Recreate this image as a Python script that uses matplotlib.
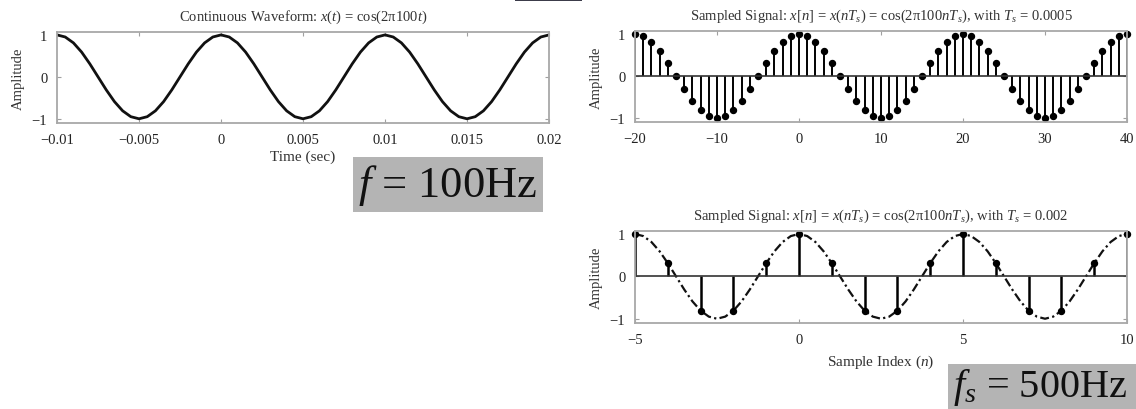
import numpy as np
import matplotlib
matplotlib.use("Agg")
import matplotlib.pyplot as plt
from matplotlib.patches import Rectangle

n_fast = np.arange(-20, 41)
x_fast = [1.0, 0.95, 0.81, 0.59, 0.31, 0.0, -0.31, -0.59, -0.81, -0.95,
          -1.0, -0.95, -0.81, -0.59, -0.31, 0.0, 0.31, 0.59, 0.81, 0.95,
          1.0, 0.95, 0.81, 0.59, 0.31, 0.0, -0.31, -0.59, -0.81, -0.95,
          -1.0, -0.95, -0.81, -0.59, -0.31, 0.0, 0.31, 0.59, 0.81, 0.95,
          1.0, 0.95, 0.81, 0.59, 0.31, 0.0, -0.31, -0.59, -0.81, -0.95,
          -1.0, -0.95, -0.81, -0.59, -0.31, 0.0, 0.31, 0.59, 0.81, 0.95,
          1.0]
Ts_fast = 0.0005

# samples at Ts = 0.002, n = -5 ... 10
n_slow = np.arange(-5, 11)
x_slow = [1.0, 0.31, -0.81, -0.81, 0.31, 1.0, 0.31, -0.81, -0.81, 0.31,
          1.0, 0.31, -0.81, -0.81, 0.31, 1.0]
Ts_slow = 0.002

t_ticks = [-0.01, -0.005, 0, 0.005, 0.01, 0.015, 0.02]
t_labels = ["\u22120.01", "\u22120.005", "0", "0.005", "0.01", "0.015", "0.02"]
fast_ticks = [-20, -10, 0, 10, 20, 30, 40]
slow_ticks = [-5, 0, 5, 10]

plt.rcParams["font.family"] = ["Liberation Serif", "DejaVu Serif"]
plt.rcParams["mathtext.fontset"] = "custom"
plt.rcParams["mathtext.rm"] = "Liberation Serif"
plt.rcParams["mathtext.it"] = "Liberation Serif:italic"
plt.rcParams["axes.unicode_minus"] = True

fig = plt.figure(figsize=(11.36, 4.10), dpi=100)
ax1 = fig.add_axes([0.0502, 0.6976, 0.4331, 0.2220])
ax2 = fig.add_axes([0.559, 0.700, 0.4331, 0.2220])
ax3 = fig.add_axes([0.559, 0.2098, 0.4331, 0.2244])


def style(ax):
    for s in ax.spines.values():
        s.set_color("#a8a8a8")
        s.set_linewidth(1.3)
    ax.tick_params(direction="in", length=3, color="#a0a0a0", top=True,
                   right=True, labelsize=10.5, labelcolor="#222222")
    ax.tick_params(axis="x", pad=7)
    ax.tick_params(axis="y", pad=7)
    ax.set_yticks([-1, 0, 1])
    ax.set_ylim(-1.1, 1.07)
    ax.set_ylabel("Amplitude", fontsize=10.5, color="#333333", labelpad=5)


# continuous waveform
t_fast = n_fast * Ts_fast
ax1.plot(t_fast, x_fast, color="#111111", lw=2.0)
ax1.set_xlim(-0.01, 0.02)
ax1.set_xticks(t_ticks)
ax1.set_xticklabels(t_labels)
style(ax1)
ax1.set_title("Continuous Waveform: $x(t)$ = cos(2\u03c0100$t$)",
              fontsize=10.5, color="#333333", pad=9)
ax1.set_xlabel("Time (sec)", fontsize=11, color="#333333", labelpad=3)

# sampled, Ts = 0.0005
ml, sl, bl = ax2.stem(n_fast, x_fast, linefmt="k-", markerfmt="ko", basefmt="k-")
ml.set_markersize(4.3)
ml.set_clip_on(False)
sl.set_linewidth(1.4)
bl.set_linewidth(1.2)
bl.set_color("#333333")
ax2.set_xlim(-20, 40)
ax2.set_xticks(fast_ticks)
style(ax2)
ax2.set_title("Sampled Signal: $x[n]$ = $x(nT_s)$ = cos(2\u03c0100$nT_s$), with $T_s$ = 0.0005",
              fontsize=10.5, color="#333333", pad=9)

# sampled, Ts = 0.002, with the continuous curve dash-dotted
ax3.plot(t_fast / Ts_slow, x_fast, color="#111111", lw=1.6, ls=(0, (4, 1.5, 1, 1.5)))
ml, sl, bl = ax3.stem(n_slow, x_slow, linefmt="k-", markerfmt="ko", basefmt="k-")
ml.set_markersize(4.3)
ml.set_clip_on(False)
sl.set_linewidth(1.8)
bl.set_linewidth(1.2)
bl.set_color("#333333")
ax3.set_xlim(-5, 10)
ax3.set_xticks(slow_ticks)
style(ax3)
ax3.set_title("Sampled Signal: $x[n]$ = $x(nT_s)$ = cos(2\u03c0100$nT_s$), with $T_s$ = 0.002",
              fontsize=10.5, color="#333333", pad=9)
ax3.set_xlabel("Sample Index ($n$)", fontsize=11, color="#333333", labelpad=5)

# grey labels
W, H = 1136.0, 410.0
fig.patches.append(Rectangle((353 / W, 1 - 213 / H), 190 / W, 55 / H,
                             transform=fig.transFigure, facecolor="#b4b4b4",
                             edgecolor="none", zorder=0))
fig.text(448 / W, 1 - 186 / H, "$f$ = 100Hz", fontsize=32, ha="center",
         va="center", color="#111111")
fig.patches.append(Rectangle((948 / W, 0), 188 / W, 45 / H,
                             transform=fig.transFigure, facecolor="#b4b4b4",
                             edgecolor="none", zorder=0))
fig.text(1040 / W, 1 - 388 / H, "$f_s$ = 500Hz", fontsize=29, ha="center",
         va="center", color="#111111")
fig.patches.append(Rectangle((515 / W, 1 - 2 / H), 67 / W, 2 / H,
                             transform=fig.transFigure, facecolor="#3c3c4a",
                             edgecolor="none", zorder=0))

fig.savefig("out.png", dpi=100)
